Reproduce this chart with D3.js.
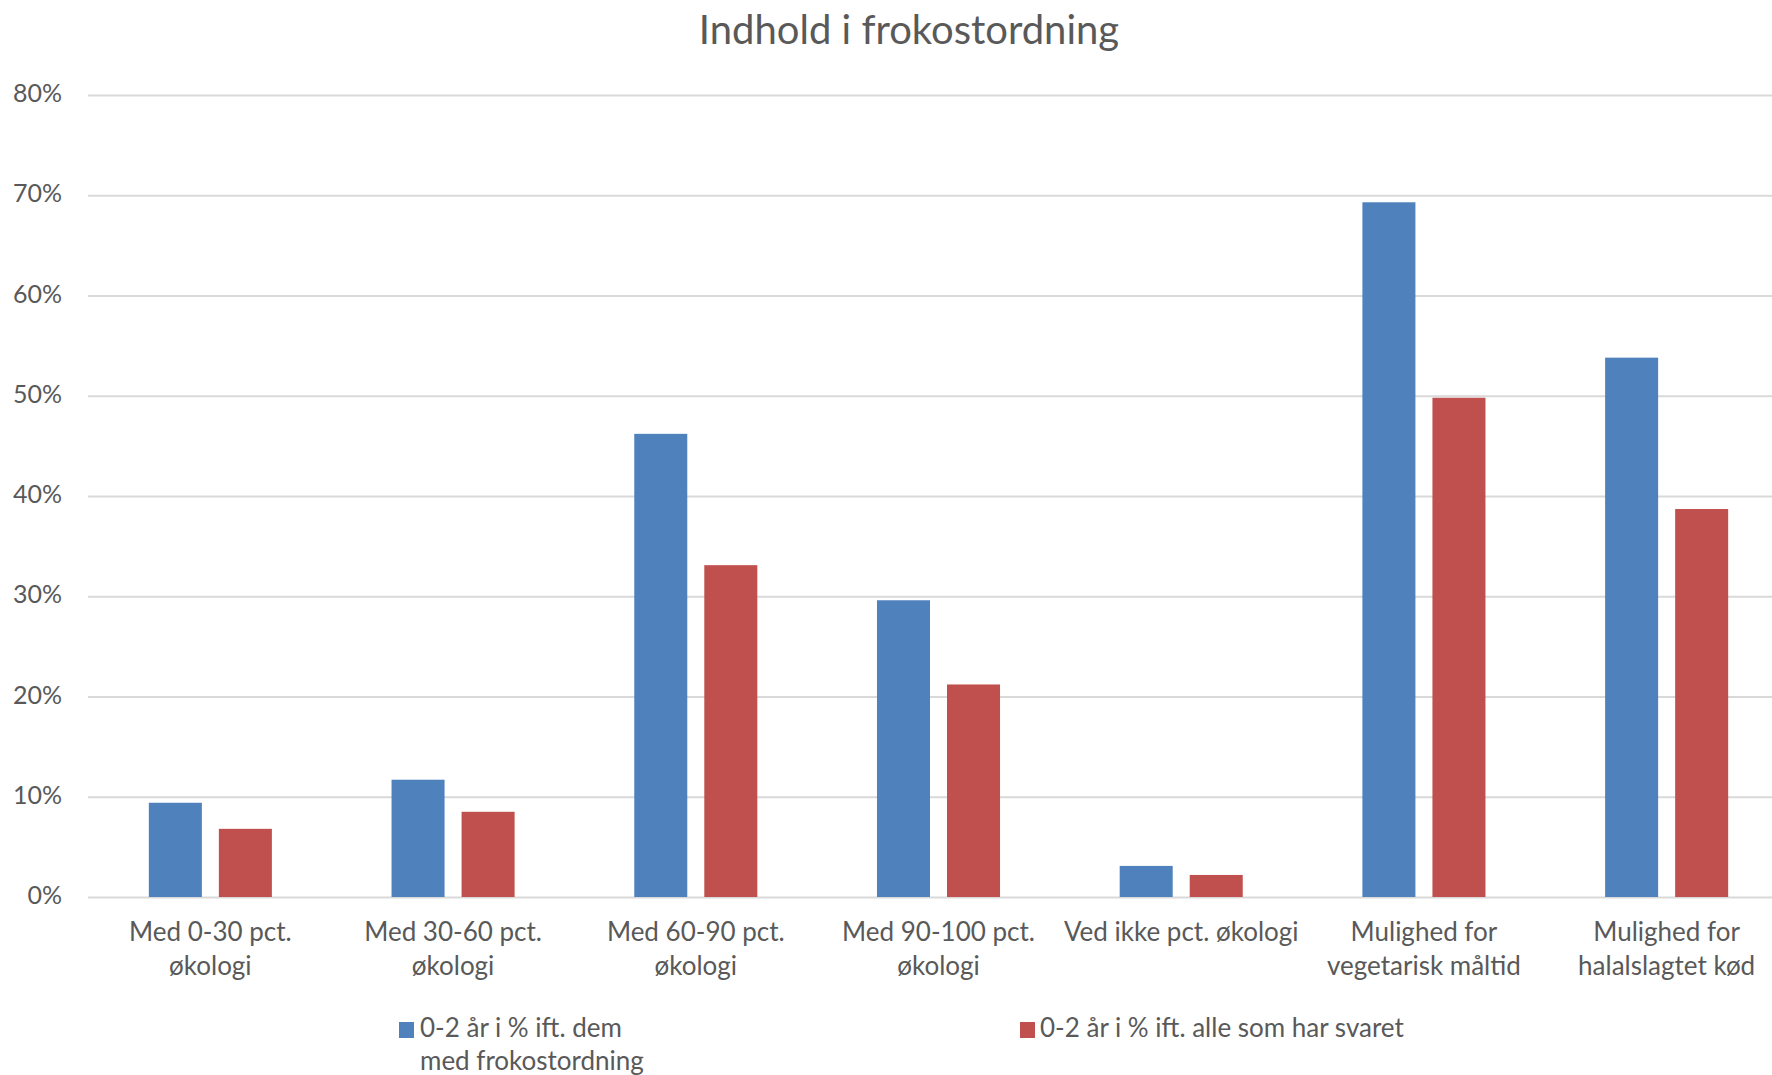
<!DOCTYPE html>
<html>
<head>
<meta charset="utf-8">
<script src="https://cdn.jsdelivr.net/npm/d3@7"></script>
<style>
  html, body { margin: 0; padding: 0; background: #fff; }
  svg { display: block; }
  text { font-family: Lato, "Open Sans", sans-serif; fill: #595959; }
</style>
</head>
<body>
<svg id="chart" width="1772" height="1075"></svg>
<script>
const title = "Indhold i frokostordning";
const categories = [
  ["Med 0-30 pct.", "økologi"],
  ["Med 30-60 pct.", "økologi"],
  ["Med 60-90 pct.", "økologi"],
  ["Med 90-100 pct.", "økologi"],
  ["Ved ikke pct. økologi"],
  ["Mulighed for", "vegetarisk måltid"],
  ["Mulighed for", "halalslagtet kød"]
];
const seriesNames = [
  ["0-2 år i % ift. dem", "med frokostordning"],
  ["0-2 år i % ift. alle som har svaret"]
];
const seriesBlue = [0.094, 0.117, 0.462, 0.296, 0.031, 0.693, 0.538];
const seriesRed  = [0.068, 0.085, 0.331, 0.212, 0.022, 0.498, 0.387];
const yTicks = [0, 0.1, 0.2, 0.3, 0.4, 0.5, 0.6, 0.7, 0.8];
const colors = ["#4F81BD", "#C0504D"];

const svg = d3.select("#chart");
const W = 1772, H = 1075;

const catIdx = categories.map((d, i) => i);
const x0 = d3.scaleBand().domain(catIdx).range([89, 1788]).paddingInner(0.493).paddingOuter(0.2465);
const x1 = d3.scaleBand().domain([0, 1]).range([0, x0.bandwidth()]).paddingInner(0.243);
const y = d3.scaleLinear().domain([0, 0.8]).range([897, 95]);

// title
svg.append("text").attr("x", 909).attr("y", 44).attr("text-anchor", "middle")
  .style("font-size", "40px").text(title);

// gridlines
const grid = d3.axisLeft(y).tickValues(yTicks).tickSize(-(W - 88)).tickFormat("");
const gg = svg.append("g").attr("transform", "translate(88,0)").call(grid);
gg.select(".domain").remove();
gg.selectAll("line").attr("stroke", "#D9D9D9").attr("stroke-width", 2);

// y axis labels
const yAxis = d3.axisLeft(y).tickValues(yTicks).tickFormat(d3.format(".0%")).tickSize(0).tickPadding(0);
const gy = svg.append("g").attr("transform", "translate(62,0)").call(yAxis);
gy.select(".domain").remove();
gy.selectAll("text").style("font-size", "25px").style("font-family", "Lato, sans-serif")
  .attr("fill", "#595959").attr("dy", "0.26em");

// bars
const data = [seriesBlue, seriesRed];
data.forEach((vals, s) => {
  svg.append("g").selectAll("rect").data(vals).join("rect")
    .attr("x", (d, i) => x0(i) + x1(s))
    .attr("width", x1.bandwidth())
    .attr("y", d => y(d))
    .attr("height", d => y(0) - y(d))
    .attr("fill", colors[s]);
});

// x labels
const xl = svg.append("g");
categories.forEach((lines, i) => {
  const cx = x0(i) + x0.bandwidth() / 2;
  const t = xl.append("text").attr("text-anchor", "middle").style("font-size", "26px");
  lines.forEach((ln, k) => {
    t.append("tspan").attr("x", cx).attr("y", 941 + k * 34).text(ln);
  });
});

// legend
const legendPos = [{sx: 399, tx: 420}, {sx: 1020, tx: 1040}];
seriesNames.forEach((lines, s) => {
  svg.append("rect").attr("x", legendPos[s].sx).attr("y", 1022).attr("width", 15).attr("height", 16).attr("fill", colors[s]);
  const t = svg.append("text").style("font-size", "26px");
  lines.forEach((ln, k) => {
    t.append("tspan").attr("x", legendPos[s].tx).attr("y", 1037 + k * 33).text(ln);
  });
});
</script>
</body>
</html>
